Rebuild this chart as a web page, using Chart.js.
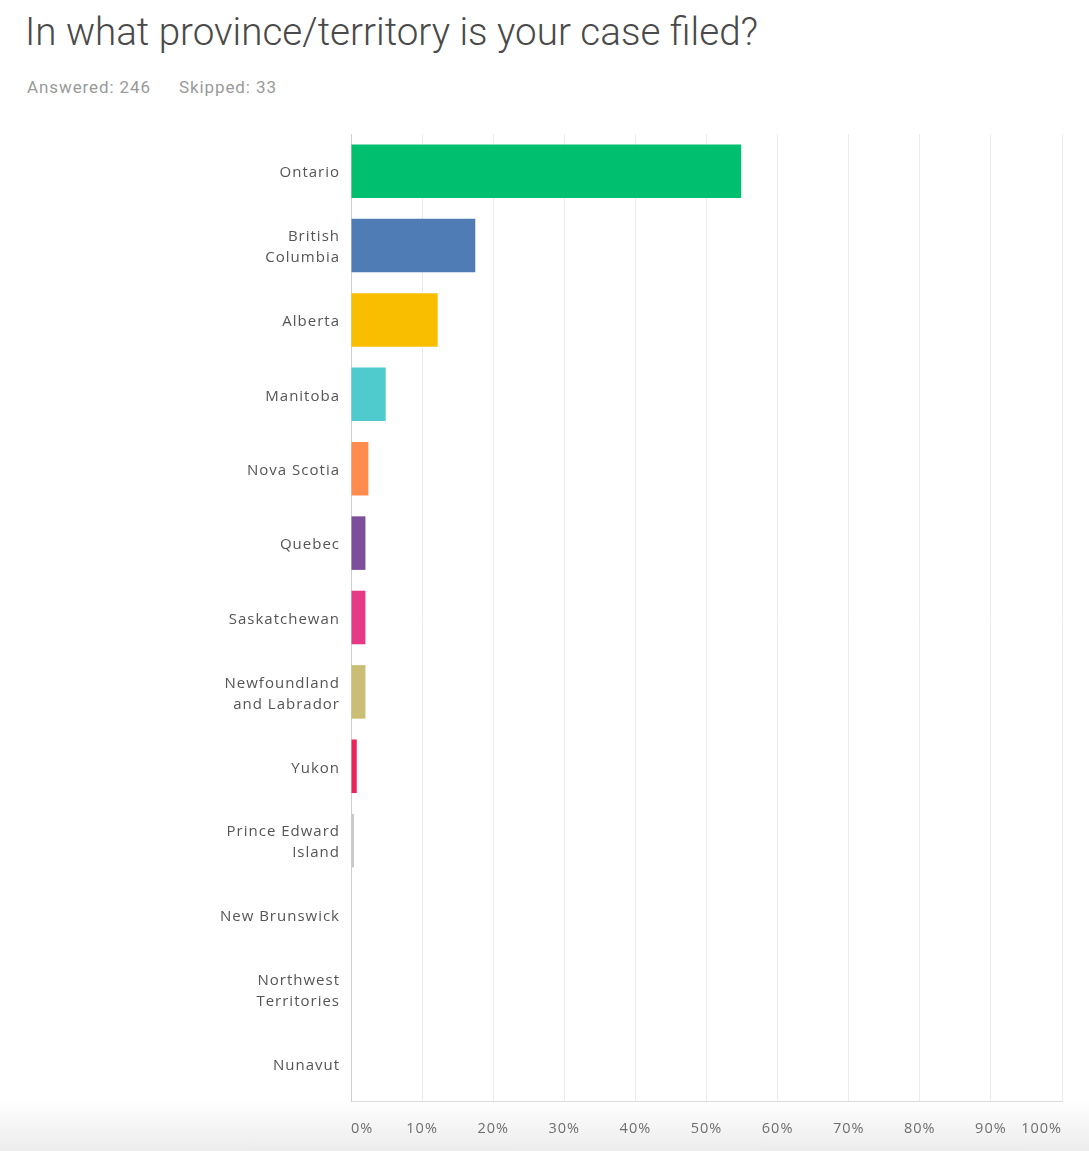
<!DOCTYPE html>
<html>
<head>
<meta charset="utf-8">
<script src="https://cdn.jsdelivr.net/npm/chart.js@4/dist/chart.umd.min.js"></script>
<style>
  html, body { margin: 0; padding: 0; }
  body {
    width: 1089px; height: 1151px; position: relative; overflow: hidden;
    background: linear-gradient(to bottom, #ffffff 0px, #ffffff 1100px, #ececec 1151px);
  }
  #title {
    position: absolute; left: 25px; top: 9px; margin: 0;
    font-family: Roboto, sans-serif; font-weight: 300; font-size: 38.6px; line-height: 45px;
    color: #4a4a4a; white-space: nowrap;
  }
  #meta {
    position: absolute; left: 27px; top: 77px;
    font-family: Roboto, sans-serif; font-size: 17px; letter-spacing: 0.9px;
    color: #9a9a9a; white-space: nowrap;
  }
  #meta span + span { margin-left: 28px; }
  #wrap { position: absolute; left: 0; top: 0; width: 1089px; height: 1151px; }
</style>
</head>
<body>
<h1 id="title">In what province/territory is your case filed?</h1>
<div id="meta"><span>Answered: 246</span><span>Skipped: 33</span></div>
<div id="wrap"><canvas id="chart"></canvas></div>
<script>
// Provinces and territories, in the order shown
const categories = [
  'Ontario',
  ['British', 'Columbia'],
  'Alberta',
  'Manitoba',
  'Nova Scotia',
  'Quebec',
  'Saskatchewan',
  ['Newfoundland', 'and Labrador'],
  'Yukon',
  ['Prince Edward', 'Island'],
  'New Brunswick',
  ['Northwest', 'Territories'],
  'Nunavut'
];

// Share of respondents (%)
const shares = [54.88, 17.48, 12.20, 4.88, 2.44, 2.03, 2.03, 2.03, 0.81, 0.41, 0, 0, 0];

const barColors = [
  '#00BF6F', '#507CB6', '#F9BE00', '#4FCBCD', '#FF8B4F', '#7D4F9B',
  '#E63A86', '#C9BE73', '#E8265A', '#C8C8C8', '#BFBFBF', '#BFBFBF', '#BFBFBF'
];

const xTicks = [0, 10, 20, 30, 40, 50, 60, 70, 80, 90, 100];

// Slightly spaced lettering for all axis text
const letterSpacingPlugin = {
  id: 'letterSpacing',
  beforeDraw(chart) { chart.ctx.letterSpacing = '1px'; }
};

new Chart(document.getElementById('chart'), {
  type: 'bar',
  data: {
    labels: categories,
    datasets: [{
      data: shares,
      backgroundColor: barColors,
      borderWidth: 0,
      barPercentage: 0.72,
      categoryPercentage: 1.0
    }]
  },
  plugins: [letterSpacingPlugin],
  options: {
    indexAxis: 'y',
    responsive: true,
    maintainAspectRatio: false,
    animation: false,
    layout: { padding: { top: 134, right: 27, left: 0, bottom: 0 } },
    plugins: { legend: { display: false }, tooltip: { enabled: false } },
    scales: {
      x: {
        min: 0, max: 100,
        afterBuildTicks: (scale) => { scale.ticks = xTicks.map(v => ({ value: v })); },
        afterFit: (scale) => { scale.height = 50; },
        grid: { color: '#ececec', lineWidth: 1, drawTicks: false },
        border: { display: true, color: '#dcdcdc' },
        ticks: {
          padding: 19,
          align: 'inner',
          color: '#6f6f6f',
          font: { family: 'Open Sans', size: 14.5 },
          callback: (v) => v + '%'
        }
      },
      y: {
        afterFit: (scale) => { scale.width = 351; },
        grid: { display: false, drawTicks: false },
        border: { display: true, color: '#cfcfcf' },
        ticks: {
          padding: 11,
          labelOffset: 2,
          color: '#555555',
          font: { family: 'Open Sans', size: 15, lineHeight: 1.4 }
        }
      }
    }
  }
});
</script>
</body>
</html>
